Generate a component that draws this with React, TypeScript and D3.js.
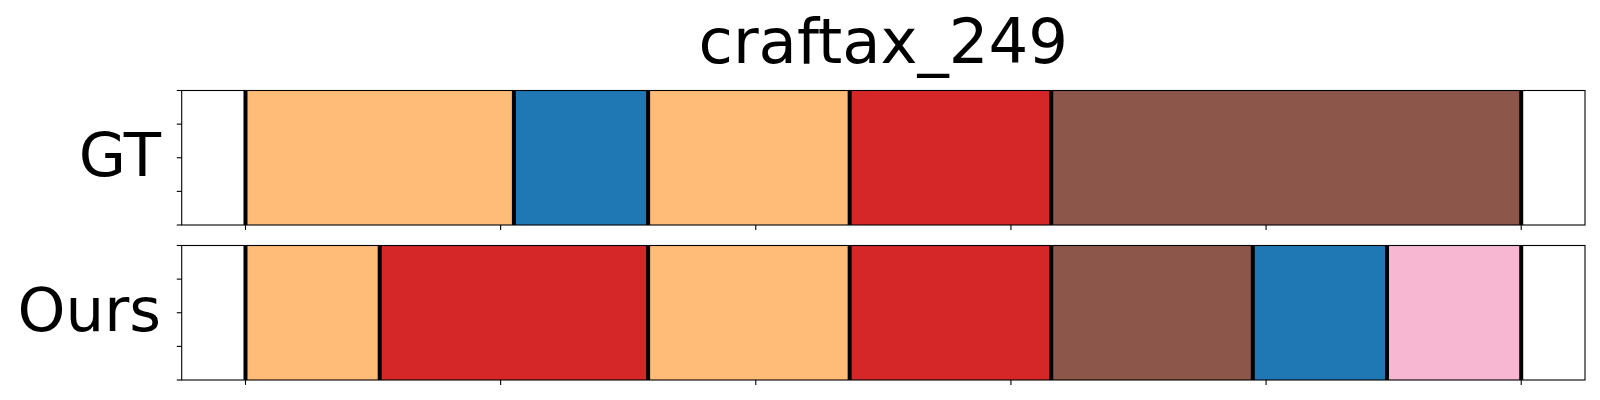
import * as d3 from "d3";

const title = "craftax_249";
const rowLabels = ["GT", "Ours"];

// segment boundaries (frames) and colours per row
const gtBounds = [0, 52.6, 78.9, 118.4, 157.9, 250];
const gtColors = ["#ffbb78", "#1f77b4", "#ffbb78", "#d62728", "#8c564b"];
const oursBounds = [0, 26.3, 78.9, 118.4, 157.9, 197.4, 223.7, 250];
const oursColors = ["#ffbb78", "#d62728", "#ffbb78", "#d62728", "#8c564b", "#1f77b4", "#f7b6d2"];

const xTicks = [0, 50, 100, 150, 200, 250];
const yTicks = [0, 0.25, 0.5, 0.75, 1];

const rows = [
  { label: rowLabels[0], bounds: gtBounds, colors: gtColors, top: 90.5 },
  { label: rowLabels[1], bounds: oursBounds, colors: oursColors, top: 245.5 },
];

const W = 1600;
const H = 400;
const panelH = 134.5;
const font = "DejaVu Sans, sans-serif";

export default function App() {
  const x = d3.scaleLinear().domain([-12.5, 262.5]).range([181.7, 1585]);

  return (
    <svg width={W} height={H} style={{ position: "absolute", left: 0, top: 0 }}>
      <rect width={W} height={H} fill="white" />
      <text x={(x(-12.5) + x(262.5)) / 2} y={62.5} textAnchor="middle" fontFamily={font} fontSize={62.5} fill="#000">
        {title}
      </text>
      {rows.map((row) => {
        const y = d3.scaleLinear().domain([0, 1]).range([row.top + panelH, row.top]);
        return (
          <g key={row.label}>
            {row.colors.map((c, i) => (
              <rect
                key={i}
                x={x(row.bounds[i])}
                y={y(1)}
                width={x(row.bounds[i + 1]) - x(row.bounds[i])}
                height={y(0) - y(1)}
                fill={c}
              />
            ))}
            {row.bounds.map((b, i) => (
              <line key={"b" + i} x1={x(b)} x2={x(b)} y1={y(0)} y2={y(1)} stroke="#000" strokeWidth={4} />
            ))}
            <rect
              x={x(-12.5)}
              y={y(1)}
              width={x(262.5) - x(-12.5)}
              height={y(0) - y(1)}
              fill="none"
              stroke="#000"
              strokeWidth={1.1}
            />
            {xTicks.map((t) => (
              <line key={"xt" + t} x1={x(t)} x2={x(t)} y1={y(0)} y2={y(0) + 4.9} stroke="#000" strokeWidth={1.1} />
            ))}
            {yTicks.map((t) => (
              <line key={"yt" + t} x1={x(-12.5)} x2={x(-12.5) - 4.9} y1={y(t)} y2={y(t)} stroke="#000" strokeWidth={1.1} />
            ))}
            <text
              x={161}
              y={(y(0) + y(1)) / 2 + 18}
              textAnchor="end"
              fontFamily={font}
              fontSize={61}
              fill="#000"
            >
              {row.label}
            </text>
          </g>
        );
      })}
    </svg>
  );
}
